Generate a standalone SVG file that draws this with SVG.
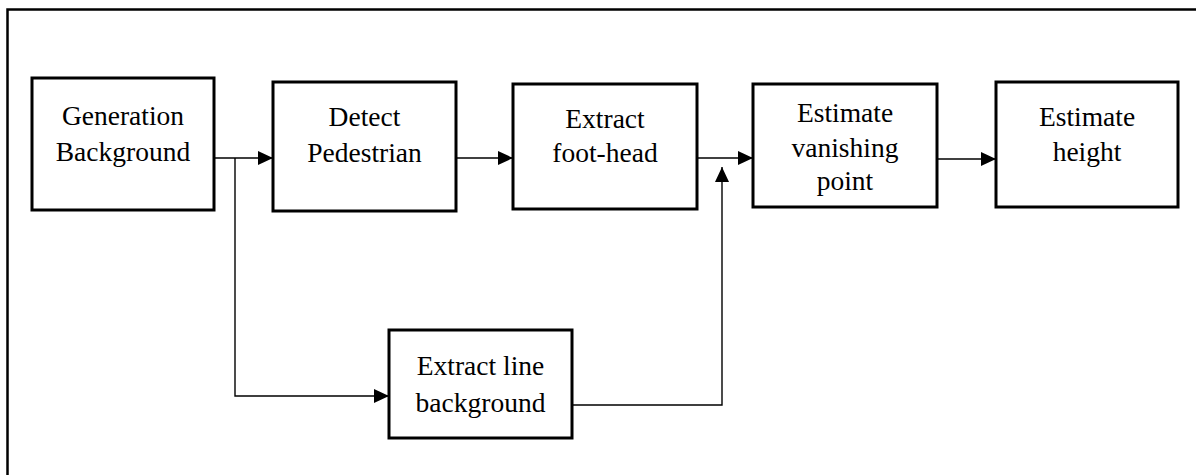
<svg xmlns="http://www.w3.org/2000/svg" width="1196" height="475" viewBox="0 0 1196 475">
<style>
.box{fill:#fff;stroke:#000;stroke-width:3}
.lbl{font-family:"Liberation Serif","Times New Roman",serif;font-size:27.5px;fill:#000;text-anchor:middle}
.ln{fill:none;stroke:#000;stroke-width:1.4}
</style>
<defs>
<marker id="ah" markerUnits="userSpaceOnUse" markerWidth="17" markerHeight="17" viewBox="0 0 17 17" refX="15" refY="8.5" orient="auto">
<path d="M0,1.5 L15,8.5 L0,15.5 Z" fill="#000"/>
</marker>
</defs>
<rect width="1196" height="475" fill="#fff"/>
<rect id="frame" x="7.5" y="9.5" width="1200" height="480" fill="none" stroke="#000" stroke-width="2.5"/>
<g id="connectors">
<line class="ln" x1="214" y1="158" x2="273" y2="158" marker-end="url(#ah)"/>
<polyline class="ln" points="235,158 235,396 389,396" marker-end="url(#ah)"/>
<line class="ln" x1="456" y1="158" x2="513" y2="158" marker-end="url(#ah)"/>
<line class="ln" x1="697" y1="158" x2="753" y2="158" marker-end="url(#ah)"/>
<polyline class="ln" points="572,405 722,405 722,167" marker-end="url(#ah)"/>
<line class="ln" x1="937" y1="159" x2="996" y2="159" marker-end="url(#ah)"/>
</g>
<g id="n1">
<rect class="box" x="32" y="78" width="182" height="132"/>
<text class="lbl" x="123" y="125">Generation</text>
<text class="lbl" x="123" y="161">Background</text>
</g>
<g id="n2">
<rect class="box" x="273" y="82" width="183" height="129"/>
<text class="lbl" x="364.5" y="126">Detect</text>
<text class="lbl" x="364.5" y="162">Pedestrian</text>
</g>
<g id="n3">
<rect class="box" x="513" y="84" width="184" height="125"/>
<text class="lbl" x="605" y="128">Extract</text>
<text class="lbl" x="605" y="162">foot-head</text>
</g>
<g id="n4">
<rect class="box" x="753" y="84" width="184" height="123"/>
<text class="lbl" x="845" y="122">Estimate</text>
<text class="lbl" x="845" y="157">vanishing</text>
<text class="lbl" x="845" y="190">point</text>
</g>
<g id="n5">
<rect class="box" x="996" y="82" width="182" height="125"/>
<text class="lbl" x="1087" y="126">Estimate</text>
<text class="lbl" x="1087" y="161">height</text>
</g>
<g id="n6">
<rect class="box" x="389" y="330" width="183" height="108"/>
<text class="lbl" x="480.5" y="375">Extract line</text>
<text class="lbl" x="480.5" y="412">background</text>
</g>
</svg>
